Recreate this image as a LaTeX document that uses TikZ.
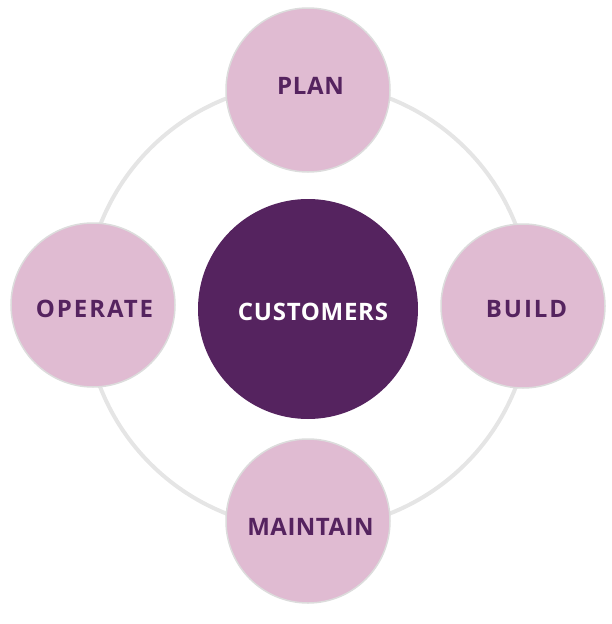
\documentclass[tikz,border=0pt]{standalone}
\usepackage{fontspec}
\newfontfamily\labfont{Open Sans}
\definecolor{pinkc}{HTML}{E0BBD2}
\definecolor{darkp}{HTML}{55235F}
\definecolor{ringc}{HTML}{E5E5E5}
\definecolor{edgec}{HTML}{DCDCDC}
\begin{document}
\begin{tikzpicture}[x=1pt,y=-1pt,
  outer/.style={circle,fill=pinkc,draw=edgec,line width=1.5pt,minimum size=164pt,inner sep=0pt},
  center/.style={circle,fill=darkp,minimum size=220pt,inner sep=0pt},
  lab/.style={anchor=base,inner sep=0pt,text=darkp,font=\labfont\bfseries\fontsize{24}{28}\selectfont},
  clab/.style={anchor=base,inner sep=0pt,text=white,font=\labfont\bfseries\fontsize{24}{28}\selectfont}]
\useasboundingbox (0,0) rectangle (611,624);
\coordinate (mid) at (308,306);
\draw[ringc,line width=4pt] (mid) circle[radius=223];
\node[center] (cust) at (308,309) {};
\node[outer] (plan) at (308,90) {};
\node[outer] (build) at (523,306) {};
\node[outer] (maint) at (308,521) {};
\node[outer] (oper) at (93,305) {};
\node[clab] (tcust) at (313,320) {\addfontfeature{LetterSpace=3}CUSTOMERS};
\node[lab] (tplan) at (310.5,94) {\addfontfeature{LetterSpace=3}PLAN};
\node[lab] (tbuild) at (526.5,317) {\addfontfeature{LetterSpace=8}BUILD};
\node[lab] (tmaint) at (310.5,535) {\addfontfeature{LetterSpace=2}MAINTAIN};
\node[lab] (toper) at (94.5,317) {\addfontfeature{LetterSpace=8}OPERATE};
\end{tikzpicture}
\end{document}
